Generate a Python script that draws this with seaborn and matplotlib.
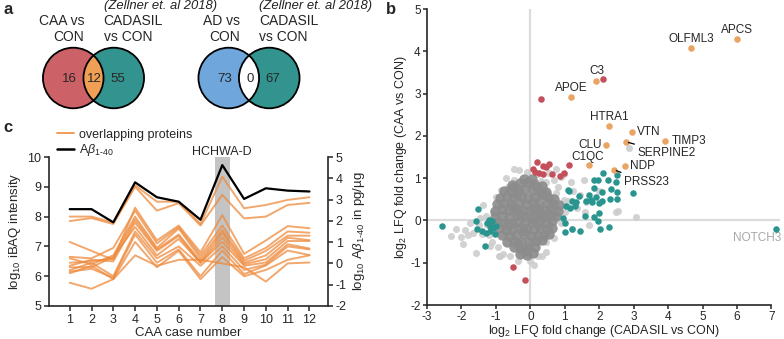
import matplotlib
matplotlib.use('Agg')
import matplotlib.pyplot as plt
from matplotlib.patches import Circle
from matplotlib.lines import Line2D
import seaborn as sns
import pandas as pd

# ---------------- data ----------------
# panel a: venn counts (left only, overlap, right only)
venn1_counts = [16, 12, 55]
venn2_counts = [73, 0, 67]
venn1_labels = ["CAA vs\nCON", "CADASIL\nvs CON"]
venn2_labels = ["AD vs\nCON", "CADASIL\nvs CON"]
venn_ref = "(Zellner et. al 2018)"

# panel c: iBAQ of the 12 overlapping proteins over 12 CAA cases, plus Abeta1-40
cases = list(range(1, 13))
abeta_1_40 = [2.55, 2.55, 1.93, 3.81, 3.11, 2.90, 2.05, 4.62, 3.03, 3.53, 3.42, 3.38]
ibaq_lines = [
    [8.00, 8.00, 7.80, 9.05, 8.50, 8.50, 7.75, 9.34, 8.28, 8.39, 8.56, 8.65],
    [7.85, 7.95, 7.75, 9.00, 8.20, 8.45, 7.70, 8.73, 7.94, 8.00, 8.39, 8.46],
    [7.15, 6.85, 6.55, 8.30, 7.20, 7.70, 6.80, 8.05, 6.75, 7.20, 7.68, 7.61],
    [6.65, 6.60, 6.95, 8.20, 7.10, 7.65, 6.70, 7.70, 6.60, 6.95, 7.50, 7.46],
    [6.60, 6.40, 6.70, 8.00, 6.95, 7.60, 6.60, 7.55, 6.52, 6.85, 7.36, 7.36],
    [6.45, 6.50, 6.60, 7.90, 6.90, 7.40, 6.50, 7.45, 6.45, 6.70, 7.29, 7.21],
    [6.35, 6.55, 6.50, 7.80, 6.85, 7.35, 6.45, 7.30, 6.40, 6.57, 7.18, 7.18],
    [6.30, 6.30, 6.65, 7.65, 6.70, 7.25, 6.45, 7.15, 6.35, 6.46, 7.07, 6.93],
    [6.20, 6.45, 6.00, 7.50, 6.60, 7.00, 6.35, 7.00, 6.21, 6.39, 7.00, 6.90],
    [6.15, 6.25, 5.95, 7.40, 6.45, 6.90, 6.00, 6.86, 6.07, 6.36, 6.86, 6.71],
    [6.10, 6.35, 5.90, 7.15, 6.30, 6.85, 5.90, 6.64, 6.00, 6.21, 6.55, 6.70],
    [5.78, 5.58, 5.90, 6.70, 6.35, 6.55, 6.55, 6.43, 6.30, 5.82, 6.43, 6.46],
]
hchwa_case = 8

# panel b: log2 LFQ fold changes (x: CADASIL vs CON, y: CAA vs CON)
both_names = ["APCS", "OLFML3", "C3", "APOE", "HTRA1", "VTN", "TIMP3",
              "SERPINE2", "CLU", "C1QC", "NDP", "PRSS23"]
both_x = [6.01, 4.67, 1.90, 1.19, 2.28, 2.96, 3.92, 2.77, 2.21, 1.71, 2.74, 2.42]
both_y = [4.29, 4.08, 3.29, 2.93, 2.24, 2.10, 1.89, 1.86, 1.78, 1.31, 1.28, 1.20]

caa_x = [2.11, 0.31, 0.18, 0.36, 0.53, 0.45, 0.14, 0.26, 0.38, 0.63, 0.98, 1.13,
         -0.49, -0.14, 0.08, 0.85]
caa_y = [3.35, 2.87, 1.37, 1.29, 1.33, 1.26, 1.14, 1.12, 1.10, 1.10, 1.13, 1.30,
         -1.09, -1.40, 1.22, 1.04]

cadasil_x = [2.11, 1.85, 1.97, 2.25, 2.52, 2.49, 1.08, 1.13, 1.85, 1.71, 2.07, 2.34,
             2.52, 2.99, 2.52, 1.42, 1.61, 1.75, 1.80, 1.99, 2.09, 1.22, 1.03, 1.15,
             1.32, 1.01, 1.21, 1.45, 1.85, 1.99, 1.97, 2.03, 2.28, 7.13, -2.56, 1.01,
             -1.51, -1.59, -1.55, -1.40, -1.21, -1.11, -1.16, -1.18, -1.07, -0.99,
             -1.04, -1.33, 1.30, 1.60, 0.95, -1.25, 1.90, 2.30, -1.30]
cadasil_y = [1.12, 0.96, 0.95, 0.96, 1.08, 0.92, 0.73, 0.69, 0.77, 0.61, 0.67, 0.74,
             0.67, 0.65, 0.51, 0.57, 0.47, 0.49, 0.43, 0.41, 0.45, 0.45, 0.33, 0.29,
             0.43, -0.06, -0.20, -0.24, 0.08, 0.17, -0.01, -0.20, -0.16, -0.20, -0.13,
             -0.28, 0.27, -0.02, -0.21, -0.24, 0.02, -0.02, -0.12, -0.24, -0.18,
             -0.14, -0.31, -0.60, 0.35, 0.10, 0.05, -0.05, 0.55, 0.50, -0.30]

# dense centre of the unregulated protein cloud
cloud_core_x = [-0.52, -0.31, -0.08, 0.12, 0.33, -0.18, 0.05,
                -0.77, -0.58, -0.36, -0.14, 0.07, 0.27, 0.46, -0.47, 0.18,
                -0.88, -0.69, -0.49, -0.27, -0.06, 0.14, 0.33, 0.52, 0.68, -0.38, 0.41,
                -0.97, -0.76, -0.57, -0.33, -0.13, 0.08, 0.26, 0.47, 0.66, 0.82,
                -1.02, -0.83, -0.61, -0.42, -0.21, 0.02, 0.22, 0.43, 0.61, 0.79, -0.50, 0.11,
                -1.04, -0.81, -0.63, -0.39, -0.18, 0.01, 0.19, 0.42, 0.58, 0.76, -0.30, 0.30,
                -0.98, -0.77, -0.54, -0.36, -0.14, 0.06, 0.24, 0.46, 0.63, -0.66, 0.15,
                -0.91, -0.71, -0.52, -0.31, -0.09, 0.12, 0.29, 0.49, 0.62, -0.20,
                -0.82, -0.60, -0.41, -0.19, 0.01, 0.21, 0.39, 0.53,
                -0.67, -0.46, -0.26, -0.04, 0.16, 0.33, -0.35,
                -0.48, -0.27, -0.06, 0.13, -0.16,
                -0.30, -0.10, 0.08]
cloud_core_y = [0.84, 0.88, 0.92, 0.87, 0.81, 0.97, 0.99,
                0.69, 0.73, 0.71, 0.75, 0.72, 0.70, 0.67, 0.78, 0.80,
                0.53, 0.57, 0.55, 0.58, 0.54, 0.56, 0.59, 0.55, 0.51, 0.62, 0.63,
                0.38, 0.41, 0.39, 0.42, 0.40, 0.43, 0.38, 0.41, 0.39, 0.36,
                0.22, 0.26, 0.24, 0.27, 0.23, 0.25, 0.28, 0.24, 0.26, 0.22, 0.31, 0.30,
                0.08, 0.11, 0.09, 0.12, 0.10, 0.07, 0.11, 0.09, 0.12, 0.10, 0.16, 0.15,
                -0.04, -0.07, -0.05, -0.03, -0.06, -0.04, -0.08, -0.05, -0.02, -0.10, 0.00,
                -0.19, -0.22, -0.20, -0.18, -0.21, -0.23, -0.19, -0.20, -0.17, -0.26,
                -0.34, -0.37, -0.35, -0.33, -0.36, -0.38, -0.34, -0.33,
                -0.51, -0.49, -0.52, -0.50, -0.48, -0.47, -0.55,
                -0.64, -0.67, -0.66, -0.63, -0.72,
                -0.79, -0.82, -0.78]
# sparse outer halo of the cloud
cloud_halo_x = [-1.91, -2.00, -1.38, -1.08, -1.75, -1.41, -1.17, -0.88, -0.78, -0.01,
                0.21, 0.46, 0.54, 0.61, 0.46, 0.54, -0.32, -0.46, -0.65, 0.80,
                0.89, 0.75, 0.97, 0.30, 1.59, 1.62, 2.48, 3.08, 2.86, -1.57,
                -1.81, -0.90, 0.35, -0.46, 0.74, 1.18, -1.25, -1.30, -1.20, -1.50,
                -1.65, -2.30, -2.15, -1.00, -0.85, -1.10, -0.95, -0.60, -0.35, 0.10,
                0.45, 0.68, 0.90, 1.00, 1.10, 1.25, 1.45, 1.35, 1.20, 0.98,
                0.70, 0.20, -0.10, -0.70, 1.55, 1.70, 2.00, 2.55, -1.95, -1.45]
cloud_halo_y = [-0.22, -0.40, 0.36, 0.21, -0.06, -0.33, -0.60, -0.84, -0.80, -0.95,
                -0.85, -0.50, -0.17, 0.15, 0.92, 1.11, 1.19, 0.95, 0.80, 0.80,
                1.03, 0.64, 0.48, 0.93, 0.20, 0.44, 0.21, 0.08, 1.71, -0.77,
                -0.34, -0.84, -0.84, 1.21, 1.21, 0.92, -0.10, 0.10, -0.35, -0.10,
                -0.30, -0.38, -0.20, 0.55, 0.72, -0.50, -0.62, -0.85, -0.95, -1.05,
                -0.75, -0.42, -0.05, 0.20, 0.45, 0.70, 0.60, 0.30, -0.20, 1.10,
                0.95, 1.10, 1.15, 1.00, 0.95, -0.10, 0.70, 0.22, -0.55, 0.05]

# ---------------- style ----------------
sns.set_style("ticks")
plt.rcParams['font.family'] = ['Liberation Sans', 'DejaVu Sans']
plt.rcParams['mathtext.fontset'] = 'custom'
plt.rcParams['mathtext.rm'] = 'Liberation Sans'
plt.rcParams['mathtext.it'] = 'Liberation Sans:italic'
plt.rcParams['mathtext.bf'] = 'Liberation Sans:bold'
plt.rcParams['axes.linewidth'] = 1.2
plt.rcParams['axes.unicode_minus'] = False

RED = '#CC6168'
TEAL = '#33938E'
BLUE = '#6FA6DC'
ORANGE_FILL = '#EFA055'
PT_RED = '#C4505C'
PT_TEAL = '#2A958F'
PT_ORANGE = '#E9A363'
LINE_ORANGE = '#EE8A3C'
FS = 8.5

fig = plt.figure(figsize=(7.84, 3.39), dpi=100)

# ---------------- panel a ----------------
ax_a = fig.add_axes([0, 1 - 130 / 339, 400 / 784, 130 / 339])
ax_a.set_xlim(0, 400)
ax_a.set_ylim(130, 0)
ax_a.axis('off')


def draw_venn(ax, cx, counts, fills, overlap_fill, labels, cy=78, r=30.3, gap=40.5):
    lx, rx = cx - gap / 2, cx + gap / 2
    left = Circle((lx, cy), r, facecolor=fills[0], edgecolor='none')
    right = Circle((rx, cy), r, facecolor=fills[1], edgecolor='none')
    ax.add_patch(left)
    ax.add_patch(right)
    lens = Circle((lx, cy), r, facecolor=overlap_fill, edgecolor='none')
    ax.add_patch(lens)
    lens.set_clip_path(right)
    for x in (lx, rx):
        ax.add_patch(Circle((x, cy), r, fill=False, edgecolor='black', lw=1.3))
    ax.text(lx - 4, cy + 1, str(counts[0]), ha='center', va='center', fontsize=9.5)
    ax.text(cx + 1, cy + 1, str(counts[1]), ha='center', va='center', fontsize=9.5)
    ax.text(rx + 4, cy + 1, str(counts[2]), ha='center', va='center', fontsize=9.5)
    ax.text(cx - 9, 29, labels[0], ha='right', va='center', fontsize=10,
            linespacing=1.1)
    ax.text(cx + 10, 29, labels[1], ha='left', va='center', fontsize=10,
            linespacing=1.1)
    ax.text(cx + 10, 6.5, venn_ref, ha='left', va='center', fontsize=9.4,
            style='italic', color='#222222')


draw_venn(ax_a, 93.5, venn1_counts, (RED, TEAL), ORANGE_FILL, venn1_labels)
draw_venn(ax_a, 249, venn2_counts, (BLUE, TEAL), 'white', venn2_labels)

# ---------------- panel c ----------------
ax_c = fig.add_axes([49 / 784, 33 / 339, 279 / 784, 149 / 339])
ax_c.axvspan(hchwa_case - 0.35, hchwa_case + 0.35, color='#c4c4c4', lw=0, zorder=0)

ibaq_df = pd.DataFrame(
    [(f"p{i}", c, v) for i, row in enumerate(ibaq_lines) for c, v in zip(cases, row)],
    columns=['protein', 'case', 'ibaq'])
sns.lineplot(data=ibaq_df, x='case', y='ibaq', units='protein', estimator=None,
             color=LINE_ORANGE, alpha=0.75, lw=1.4, ax=ax_c)
ax_c.set_xlim(0.05, 12.85)
ax_c.set_ylim(5, 10)
ax_c.set_xticks(cases)
ax_c.set_yticks(range(5, 11))
ax_c.set_xlabel('CAA case number', fontsize=FS + 1, labelpad=1)
ax_c.set_ylabel('log$_{10}$ iBAQ intensity', fontsize=FS + 1, labelpad=3)
ax_c.tick_params(labelsize=FS + 0.5, length=3.5, width=1.1, pad=2)

ax_r = ax_c.twinx()
abeta_df = pd.DataFrame({'case': cases, 'abeta': abeta_1_40})
sns.lineplot(data=abeta_df, x='case', y='abeta', color='black', lw=1.6, ax=ax_r)
ax_r.set_ylim(-2, 5)
ax_r.set_yticks(range(-2, 6))
ax_r.set_ylabel(r'log$_{10}$ A$\beta_{1\text{-}40}$ in pg/µg', fontsize=FS + 1, labelpad=3)
ax_r.tick_params(labelsize=FS + 0.5, length=3.5, width=1.1, pad=2)
for a in (ax_c, ax_r):
    a.spines['top'].set_visible(False)
ax_c.spines['right'].set_visible(False)
ax_r.spines['left'].set_visible(False)
ax_r.spines['bottom'].set_visible(False)

ax_c.text(hchwa_case, 10.17, 'HCHWA-D', ha='center', va='center', fontsize=FS + 0.5)
handles = [Line2D([], [], color=LINE_ORANGE, lw=1.4, alpha=0.85),
           Line2D([], [], color='black', lw=1.8)]
ax_c.legend(handles, ['overlapping proteins', r'A$\beta_{1\text{-}40}$'],
            loc='lower left', bbox_to_anchor=(0.03, 0.99), frameon=False,
            fontsize=FS + 0.5, handlelength=1.3, handletextpad=0.4,
            labelspacing=0.15, borderpad=0, borderaxespad=0)

# ---------------- panel b ----------------
ax_b = fig.add_axes([427 / 784, 34 / 339, 353 / 784, 296 / 339])
ax_b.axvline(0, color='#dcdcdc', lw=1.6, zorder=0)
ax_b.axhline(0, color='#dcdcdc', lw=1.6, zorder=0)
sns.scatterplot(x=cloud_halo_x, y=cloud_halo_y, color='#cdcdcd', s=26,
                linewidth=0, alpha=0.9, ax=ax_b, zorder=2)
sns.scatterplot(x=cloud_core_x, y=cloud_core_y, color='#8c8c8c', s=56,
                linewidth=0, alpha=0.92, ax=ax_b, zorder=3)
sns.scatterplot(x=cadasil_x, y=cadasil_y, color=PT_TEAL, s=22, linewidth=0,
                ax=ax_b, zorder=4, clip_on=False)
sns.scatterplot(x=caa_x, y=caa_y, color=PT_RED, s=22, linewidth=0, ax=ax_b, zorder=4)
sns.scatterplot(x=both_x, y=both_y, color=PT_ORANGE, s=22, linewidth=0, ax=ax_b, zorder=5)

# label placement (pixel offsets from each point)
label_place = {
    "APCS": (0, 9, 'center'), "OLFML3": (0, 9, 'center'), "C3": (1, 10, 'center'),
    "APOE": (0, 9, 'center'), "HTRA1": (0, 9, 'center'), "VTN": (5, 0, 'left'),
    "TIMP3": (6, 0, 'left'), "SERPINE2": (12, -11, 'left'), "CLU": (-5, 0, 'right'),
    "C1QC": (-2, 8, 'center'), "NDP": (5, 0, 'left'), "PRSS23": (10, -12, 'left'),
}
for name, x, y in zip(both_names, both_x, both_y):
    dx, dy, ha = label_place[name]
    arrow = None
    if name in ("SERPINE2", "PRSS23"):
        arrow = dict(arrowstyle='-', color='black', lw=0.9, shrinkA=0, shrinkB=2)
    ax_b.annotate(name, (x, y), xytext=(dx, dy), textcoords='offset pixels',
                  ha=ha, va='center', fontsize=FS, arrowprops=arrow, zorder=6)
ax_b.text(7.28, -0.42, 'NOTCH3', ha='right', va='center', fontsize=FS,
          color='#a8a8a8', clip_on=False)

ax_b.set_xlim(-3, 7.25)
ax_b.set_ylim(-2, 5)
ax_b.set_xticks(range(-3, 8))
ax_b.set_yticks(range(-2, 6))
ax_b.spines['bottom'].set_bounds(-3, 7)
ax_b.spines['top'].set_visible(False)
ax_b.spines['right'].set_visible(False)
ax_b.tick_params(labelsize=FS, length=3, width=1.1, pad=1.5)
ax_b.set_xlabel('log$_2$ LFQ fold change (CADASIL vs CON)', fontsize=FS + 0.5, labelpad=0)
ax_b.set_ylabel('log$_2$ LFQ fold change (CAA vs CON)', fontsize=FS + 0.5, labelpad=1)

# panel letters
fig.text(3 / 784, 1 - 10 / 339, 'a', fontsize=12, fontweight='bold', va='center')
fig.text(386 / 784, 1 - 10 / 339, 'b', fontsize=12, fontweight='bold', va='center')
fig.text(3 / 784, 1 - 127 / 339, 'c', fontsize=12, fontweight='bold', va='center')

fig.savefig('out.png', dpi=100)
